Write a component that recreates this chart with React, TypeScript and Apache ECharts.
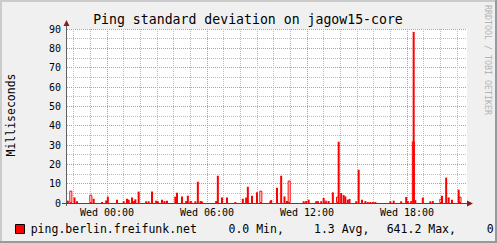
import React, { useEffect, useRef } from "react";
import * as echarts from "echarts";

// 3-minute slots starting Tue 21:36 (481 slots = 24 h)
const startMinute = 21 * 60 + 36;
const slotMinutes = 3;
const slotCount = 481;

const timeLabels: string[] = [];
for (let i = 0; i < slotCount; i++) {
  const m = (startMinute + i * slotMinutes) % 1440;
  const hh = String(Math.floor(m / 60)).padStart(2, "0");
  const mm = String(m % 60).padStart(2, "0");
  timeLabels.push(`${hh}:${mm}`);
}

// filled (solid) spikes: slot index and ms value
const filledSlots = [1, 9, 12, 32, 42, 47, 49, 60, 68, 72, 74, 78, 82, 86, 95, 98, 102, 107, 109, 114, 117, 120, 130, 132, 138, 143, 145, 154, 157, 162, 179, 181, 186, 192, 202, 211, 215, 217, 222, 228, 244, 245, 252, 257, 261, 264, 284, 287, 290, 299, 301, 305, 308, 314, 319, 326, 329, 332, 334, 337, 339, 347, 350, 354, 358, 361, 364, 367, 370, 388, 392, 401, 407, 409, 413, 416, 418, 427, 436, 439, 450, 455, 458, 462, 470];
const filledValues = [1.2, 2.9, 0.9, 2.2, 0.5, 1.3, 3.3, 1.7, 0.9, 2.2, 1.7, 2.8, 1.9, 5.9, 0.9, 0.9, 5.9, 1.2, 0.9, 1.7, 1.0, 1.2, 3.3, 5.3, 3.3, 1.0, 3.8, 0.9, 11.0, 0.7, 1.0, 14.1, 2.9, 2.8, 0.5, 2.2, 2.8, 8.4, 3.8, 5.5, 0.9, 1.5, 7.9, 14.1, 3.4, 1.0, 0.9, 1.0, 1.7, 0.9, 1.0, 0.9, 2.6, 1.0, 5.5, 31.7, 5.2, 4.1, 3.4, 1.7, 2.1, 0.9, 17.2, 1.7, 1.0, 0.5, 0.5, 0.5, 0.5, 0.9, 1.2, 0.9, 3.1, 1.0, 1.0, 88.5, 1.5, 2.8, 0.9, 1.0, 3.8, 13.1, 2.9, 1.7, 6.9];

// outlined (hollow) spikes
const hollowSlots = [4, 28, 80, 148, 160, 232, 266, 310, 324, 415, 448, 471];
const hollowValues = [6.4, 4.3, 1.0, 1.0, 1.0, 6.4, 11.6, 1.2, 3.3, 31.9, 2.2, 3.3];

const yTicks = [0, 10, 20, 30, 40, 50, 60, 70, 80, 90];

const legendName = "ping.berlin.freifunk.net";
const legendStats = ["0.0 Min,", "1.3 Avg,", "641.2 Max,", "0."];

const MONO = '"DejaVu Sans Mono", monospace';

function toSeries(slots: number[], values: number[]) {
  const arr: (number | null)[] = new Array(slotCount).fill(null);
  slots.forEach((s, i) => {
    arr[s] = values[i];
  });
  return arr;
}

export default function App() {
  const ref = useRef<HTMLDivElement>(null);
  useEffect(() => {
    document.body.style.margin = "0";
    if (!ref.current) return;
    const chart = echarts.init(ref.current, undefined, { renderer: "svg" });
    const gridLeft = 67;
    const gridTop = 29;
    const gridW = 400;
    const gridH = 174;
    const bottomY = gridTop + gridH;
    const option: any = {
      animation: false,
      backgroundColor: "#f0f0f0",
      grid: {
        left: gridLeft,
        top: gridTop,
        width: gridW,
        height: gridH,
        show: true,
        backgroundColor: "#ffffff",
        borderWidth: 0,
      },
      xAxis: [
        {
          type: "category",
          data: timeLabels,
          boundaryGap: false,
          axisLine: { show: false },
          axisTick: { show: false },
          axisLabel: {
            interval: (i: number) => i % 120 === 48,
            formatter: (v: string) => `Wed ${v}`,
            fontFamily: MONO,
            fontSize: 10,
            color: "#000",
            margin: 4,
          },
          splitLine: {
            show: true,
            interval: (i: number) => i % 20 === 8 && i % 120 !== 48,
            lineStyle: { color: "#bdbdbd", type: [1, 1], width: 1 },
          },
        },
        {
          type: "category",
          data: timeLabels,
          boundaryGap: false,
          position: "bottom",
          axisLine: { show: false },
          axisTick: { show: false },
          axisLabel: { show: false },
          splitLine: {
            show: true,
            interval: (i: number) => i % 120 === 48,
            lineStyle: { color: "#e58a8a", type: [1, 1], width: 1 },
          },
        },
      ],
      yAxis: {
        type: "value",
        min: yTicks[0],
        max: yTicks[yTicks.length - 1],
        interval: 10,
        axisLine: { show: false },
        axisTick: { show: false },
        axisLabel: { fontFamily: MONO, fontSize: 10, color: "#000", margin: 6 },
        splitLine: { show: true, lineStyle: { color: "#e58a8a", type: [1, 1], width: 1 } },
        minorTick: { show: false, splitNumber: 2 },
        minorSplitLine: { show: true, lineStyle: { color: "#bdbdbd", type: [1, 1], width: 1 } },
      },
      series: [
        {
          type: "bar",
          name: "hollow",
          data: toSeries(hollowSlots, hollowValues),
          barWidth: 3,
          barGap: "-100%",
          itemStyle: { color: "#ffffff", borderColor: "#ff0000", borderWidth: 1 },
          silent: true,
        },
        {
          type: "bar",
          name: legendName,
          data: toSeries(filledSlots, filledValues),
          barWidth: 2,
          barGap: "-100%",
          itemStyle: { color: "#ff0000" },
          silent: true,
        },
      ],
      graphic: [
        // 3D frame
        { type: "rect", shape: { x: 0, y: 0, width: 497, height: 2 }, style: { fill: "#cbcbcb" }, z: 100 },
        { type: "rect", shape: { x: 0, y: 0, width: 2, height: 243 }, style: { fill: "#cbcbcb" }, z: 100 },
        { type: "rect", shape: { x: 495, y: 0, width: 2, height: 243 }, style: { fill: "#999999" }, z: 100 },
        { type: "rect", shape: { x: 0, y: 241, width: 497, height: 2 }, style: { fill: "#999999" }, z: 100 },
        // axes
        {
          type: "line",
          shape: { x1: gridLeft - 0.5, y1: bottomY + 3, x2: gridLeft - 0.5, y2: gridTop - 3 },
          style: { stroke: "#606060", lineWidth: 1 },
          z: 50,
        },
        {
          type: "line",
          shape: { x1: gridLeft - 5, y1: bottomY + 0.5, x2: gridLeft + gridW + 1, y2: bottomY + 0.5 },
          style: { stroke: "#6b3a3a", lineWidth: 1 },
          z: 50,
        },
        {
          type: "polygon",
          shape: { points: [[gridLeft - 3.5, gridTop - 3], [gridLeft + 2.5, gridTop - 3], [gridLeft - 0.5, gridTop - 9]] },
          style: { fill: "#8b1c1c" },
          z: 50,
        },
        {
          type: "polygon",
          shape: { points: [[gridLeft + gridW, bottomY - 2.5], [gridLeft + gridW, bottomY + 3.5], [gridLeft + gridW + 6, bottomY + 0.5]] },
          style: { fill: "#8b1c1c" },
          z: 50,
        },
        // title
        {
          type: "text",
          x: 248,
          y: 19.5,
          style: {
            text: "Ping standard deviation on jagow15-core",
            fill: "#000",
            fontFamily: MONO,
            fontSize: 13.2,
            align: "center",
            verticalAlign: "middle",
          },
        },
        // y-axis name
        {
          type: "text",
          x: 11,
          y: 115,
          rotation: Math.PI / 2,
          style: {
            text: "Milliseconds",
            fill: "#000",
            fontFamily: MONO,
            fontSize: 11.5,
            align: "center",
            verticalAlign: "middle",
          },
        },
        // watermark
        {
          type: "text",
          x: 487.5,
          y: 5,
          rotation: -Math.PI / 2,
          style: {
            text: "RRDTOOL / TOBI OETIKER",
            fill: "#b4b4b4",
            fontFamily: MONO,
            fontSize: 8.3,
            align: "left",
            verticalAlign: "middle",
          },
        },
        // legend
        {
          type: "rect",
          shape: { x: 15.5, y: 224.5, width: 9, height: 9 },
          style: { fill: "#ff0000", stroke: "#000", lineWidth: 1 },
        },
        {
          type: "text",
          x: 30.7,
          y: 229,
          style: { text: legendName, fill: "#000", fontFamily: MONO, fontSize: 11.5, align: "left", verticalAlign: "middle" },
        },
        {
          type: "text",
          x: 228.5,
          y: 229,
          style: { text: legendStats[0], fill: "#000", fontFamily: MONO, fontSize: 11.5, align: "left", verticalAlign: "middle" },
        },
        {
          type: "text",
          x: 314,
          y: 229,
          style: { text: legendStats[1], fill: "#000", fontFamily: MONO, fontSize: 11.5, align: "left", verticalAlign: "middle" },
        },
        {
          type: "text",
          x: 386.7,
          y: 229,
          style: { text: legendStats[2], fill: "#000", fontFamily: MONO, fontSize: 11.5, align: "left", verticalAlign: "middle" },
        },
        {
          type: "text",
          x: 486.7,
          y: 229,
          style: { text: legendStats[3], fill: "#000", fontFamily: MONO, fontSize: 11.5, align: "left", verticalAlign: "middle" },
        },
      ],
    };
    chart.setOption(option);
    return () => chart.dispose();
  }, []);
  return <div ref={ref} style={{ width: 497, height: 243 }} />;
}
